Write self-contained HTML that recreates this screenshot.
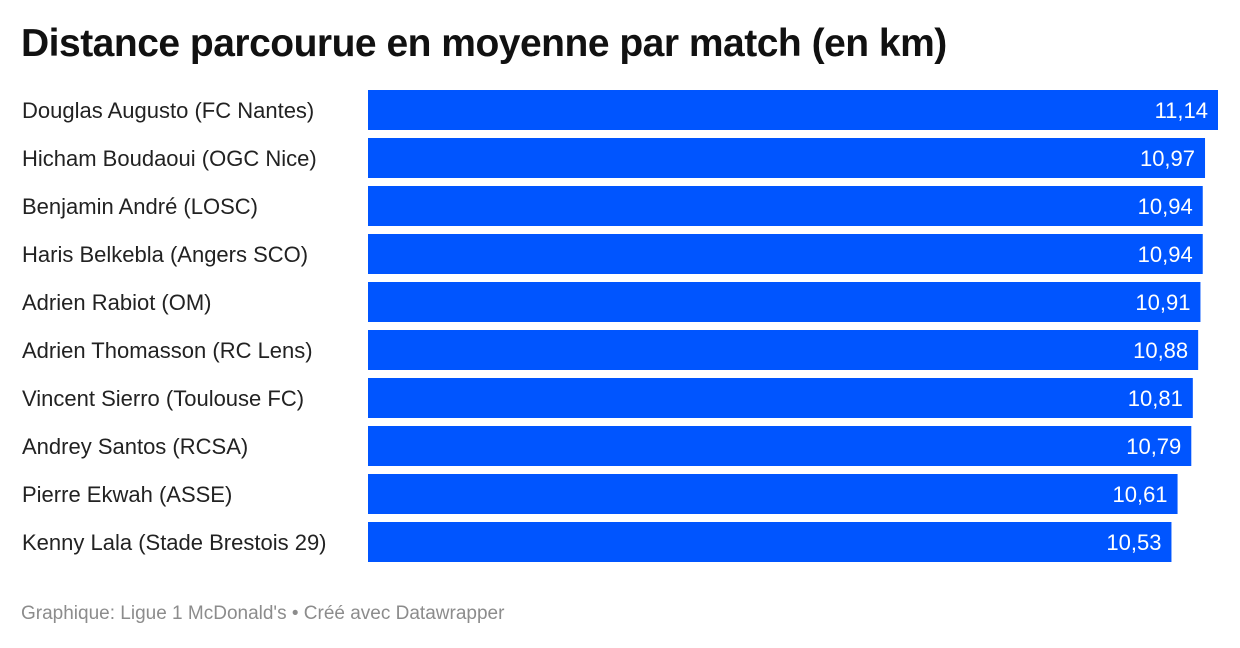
<!DOCTYPE html>
<html><head><meta charset="utf-8"><style>
body{margin:0;width:1240px;height:648px;background:#fff;font-family:"Liberation Sans",sans-serif;overflow:hidden;position:relative}
#title{position:absolute;left:21px;top:22px;font-size:39px;font-weight:bold;color:#111;letter-spacing:-0.5px;white-space:nowrap}
#footer{position:absolute;left:21px;top:603px;font-size:19px;color:#8c8c8c}
svg{position:absolute;left:0;top:0}
</style></head><body>
<div id="title">Distance parcourue en moyenne par match (en km)</div>
<svg id="chart" width="1240" height="648"></svg>
<div id="footer">Graphique: Ligue 1 McDonald's • Créé avec Datawrapper</div>
<script>
const categories=["Douglas Augusto (FC Nantes)","Hicham Boudaoui (OGC Nice)","Benjamin André (LOSC)","Haris Belkebla (Angers SCO)","Adrien Rabiot (OM)","Adrien Thomasson (RC Lens)","Vincent Sierro (Toulouse FC)","Andrey Santos (RCSA)","Pierre Ekwah (ASSE)","Kenny Lala (Stade Brestois 29)"];
const values=[11.14,10.97,10.94,10.94,10.91,10.88,10.81,10.79,10.61,10.53];
const svg=document.getElementById('chart');
const NS='http://www.w3.org/2000/svg';
const x0=368,xMax=11.14,wMax=850;
const xs=v=>v/xMax*wMax;
const ys=i=>90+i*48;
categories.forEach((c,i)=>{
  const t=document.createElementNS(NS,'text');
  
  
  t.setAttribute('x',22);t.setAttribute('y',ys(i)+28);
  t.setAttribute('font-size','22');t.setAttribute('fill','#222');
  t.setAttribute('font-family','Liberation Sans, sans-serif');
  t.textContent=c;svg.appendChild(t);
  const r=document.createElementNS(NS,'rect');
  
  
  r.setAttribute('x',x0);r.setAttribute('y',ys(i));
  r.setAttribute('width',xs(values[i]));r.setAttribute('height',40);
  r.setAttribute('fill','#0055ff');svg.appendChild(r);
  const v=document.createElementNS(NS,'text');
  
  
  v.setAttribute('x',x0+xs(values[i])-10);v.setAttribute('y',ys(i)+28);
  v.setAttribute('text-anchor','end');
  v.setAttribute('font-size','22');v.setAttribute('fill','#fff');
  v.setAttribute('font-family','Liberation Sans, sans-serif');
  v.textContent=values[i].toFixed(2).replace('.',',');svg.appendChild(v);
});
</script>
</body></html>
